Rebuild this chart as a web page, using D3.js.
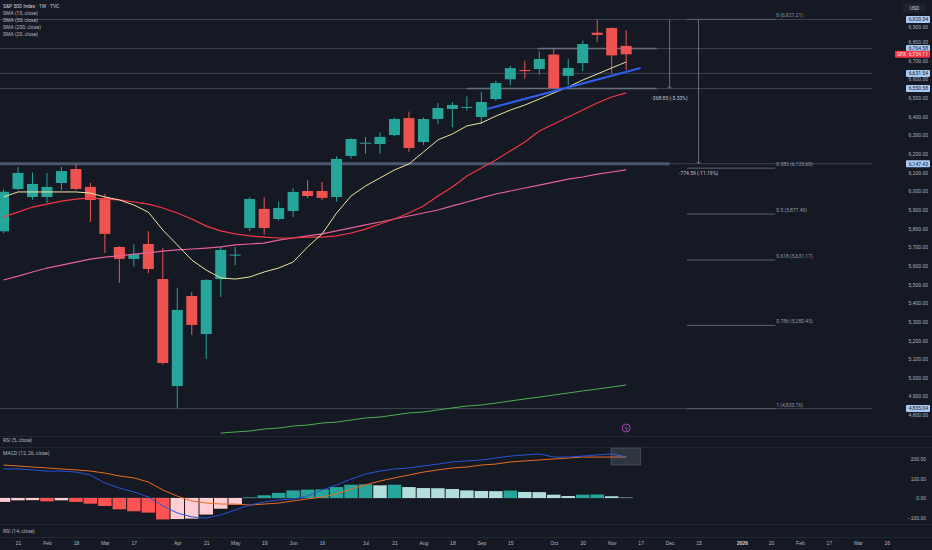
<!DOCTYPE html>
<html>
<head>
<meta charset="utf-8">
<script src="https://cdn.jsdelivr.net/npm/d3@7"></script>
<style>
body { margin: 0; background: #151924; }
svg { display: block; font-family: Roboto, "Noto Sans", sans-serif; }
</style>
</head>
<body>
<div class="mainVis"></div>
<script>
// weekly bars, first one is partly off the left edge
var weeks = ["2025-01-13", "2025-01-21", "2025-01-27", "2025-02-03", "2025-02-10", "2025-02-18", "2025-02-24",
  "2025-03-03", "2025-03-10", "2025-03-17", "2025-03-24", "2025-03-31", "2025-04-07", "2025-04-14", "2025-04-21",
  "2025-04-28", "2025-05-05", "2025-05-12", "2025-05-19", "2025-05-27", "2025-06-02", "2025-06-09", "2025-06-16",
  "2025-06-23", "2025-06-30", "2025-07-07", "2025-07-14", "2025-07-21", "2025-07-28", "2025-08-04", "2025-08-11",
  "2025-08-18", "2025-08-25", "2025-09-02", "2025-09-08", "2025-09-15", "2025-09-22", "2025-09-29", "2025-10-06",
  "2025-10-13", "2025-10-20", "2025-10-27", "2025-11-03", "2025-11-10"];

var opens = [5785, 6012, 5969, 5969, 6044, 6119, 6023, 5964, 5701, 5637, 5717, 5529, 4955, 5438, 5234, 5529, 5658,
  5803, 5905, 5851, 5894, 6001, 6001, 5969, 6189, 6258, 6253, 6301, 6392, 6264, 6387, 6441, 6450, 6398, 6494, 6600,
  6650, 6655, 6733, 6618, 6687, 6850, 6875, 6779];
var highs = [6010, 6130, 6100, 6098, 6130, 6147, 6045, 5986, 5705, 5715, 5786, 5695, 5481, 5459, 5529, 5700, 5700,
  5968, 5968, 5944, 6016, 6059, 6050, 6187, 6284, 6290, 6315, 6395, 6427, 6395, 6473, 6478, 6508, 6532, 6592, 6672,
  6700, 6750, 6764.58, 6710, 6807, 6920.34, 6878, 6864];
var lows = [5775, 6005, 5955, 5937, 6005, 6005, 5835, 5669, 5508, 5597, 5560, 5070, 4835.04, 5230, 5101, 5433, 5603,
  5786, 5767, 5843, 5861, 5963, 5952, 5944, 6174, 6201, 6201, 6294, 6212, 6248, 6358, 6343, 6433, 6360, 6485, 6568,
  6604, 6625, 6550.58, 6570, 6645, 6800, 6631.54, 6650];
var closes = [5997, 6098, 6039, 6023, 6108, 6012, 5953, 5771, 5637, 5663, 5583, 5079, 5363, 5283, 5524, 5685, 5660,
  5958, 5803, 5910, 5996, 5974, 5964, 6173, 6280, 6260, 6291, 6387, 6232, 6387, 6446, 6462, 6452, 6478, 6580, 6660,
  6644, 6709, 6553, 6661, 6789, 6838, 6728, 6734.11];

var sma10 = [5969, 5996, 5996, 5996, 5996, 5996, 5990, 5969, 5953, 5926, 5888, 5792, 5712, 5631, 5577, 5535, 5529,
  5540, 5567, 5588, 5620, 5701, 5771, 5883, 5974, 6028, 6071, 6114, 6146, 6210, 6275, 6307, 6350, 6366, 6403, 6435,
  6462, 6494, 6527, 6559, 6596, 6628, 6661, 6693];
var sma20 = [5862, 5888, 5915, 5931, 5947, 5958, 5964, 5958, 5953, 5942, 5931, 5910, 5883, 5851, 5813, 5787, 5771,
  5760, 5754, 5749, 5749, 5754, 5754, 5760, 5776, 5797, 5824, 5851, 5883, 5921, 5974, 6023, 6082, 6124, 6167, 6216,
  6264, 6323, 6360, 6398, 6435, 6473, 6505, 6527];
var sma50 = [5524, 5545, 5567, 5588, 5604, 5620, 5636, 5647, 5653, 5663, 5669, 5679, 5685, 5690, 5695, 5701, 5712,
  5717, 5722, 5738, 5749, 5760, 5771, 5787, 5803, 5819, 5835, 5851, 5867, 5883, 5899, 5921, 5942, 5964, 5985, 6001,
  6017, 6033, 6049, 6065, 6076, 6092, 6103, 6114];
var sma200 = [null, null, null, null, null, null, null, null, null, null, null, null, null, null, null,
  4703, 4709, 4714, 4725, 4730, 4741, 4746, 4757, 4762, 4773, 4784, 4789, 4800, 4811, 4816, 4827, 4838, 4848, 4854,
  4864, 4875, 4886, 4896, 4907, 4918, 4929, 4939, 4950, 4961];

var macdLine = [149, 149, 144, 138, 138, 133, 118, 77, 51, 31, 5, -41, -77, -97, -103, -87, -62, -36, -21, -10, -5,
  10, 41, 67, 97, 123, 138, 149, 154, 164, 174, 185, 190, 195, 205, 215, 221, 226, 210, 210, 215, 221, 226, 210];
var signalLine = [169, 164, 159, 154, 149, 144, 138, 128, 113, 103, 82, 41, 10, -15, -26, -31, -31, -36, -31, -26,
  -15, -5, 5, 21, 46, 67, 87, 103, 118, 133, 144, 154, 159, 169, 174, 185, 190, 195, 200, 205, 210, 210, 210, 210];
var histValues = [-20, -12, -11, -17, -12, -20, -29, -41, -58, -68, -75, -110, -108, -106, -85, -55, -34, 3, 14, 26,
  39, 43, 44, 56, 68, 70, 65, 68, 56, 51, 50, 46, 39, 36, 35, 38, 31, 30, 17, 10, 17, 18, 9, 2];

// time axis, positions are bar slots (slot 1 = week of Jan 21)
var tickSlots = [1, 3, 5, 7, 9, 12, 14, 16, 18, 20, 22, 25, 27, 29, 31, 33, 35, 38, 40, 42, 44, 46, 48, 51, 53, 55, 57, 59, 61];
var tickText = ["21", "Feb", "18", "Mar", "17", "Apr", "21", "May", "19", "Jun", "16", "Jul", "21", "Aug", "18", "Sep",
  "15", "Oct", "20", "Nov", "17", "Dec", "15", "2026", "20", "Feb", "17", "Mar", "16"];

var priceTicks = [4800, 4900, 5000, 5100, 5200, 5300, 5400, 5500, 5600, 5700, 5800, 5900, 6000, 6100, 6200, 6300,
  6400, 6500, 6600, 6700, 6800, 6900];
var macdTicks = [-100, 0, 100, 200];

// drawings
var hLinePrices = [6920.34, 6764.58, 6631.54, 6550.58, 6147.43, 4835.04];
var fibLevels = [0, 0.382, 0.5, 0.618, 0.786, 1];
var fibPrices = [6921.21, 6123.60, 5877.49, 5631.17, 5280.45, 4833.76];
var trendPoints = [[33.4, 6441], [44.0, 6661]];
var measures = [
  { slot: 46.0, from: 6920.34, to: 6550.58, text: "-368.85 (-5.33%)" },
  { slot: 48.0, from: 6920.34, to: 6147.43, text: "-774.59 (-11.19%)" }
];
var lastPrice = 6734.11;

var legendLines = ["S&P 500 Index · 1W · TVC", "SMA (10, close)", "SMA (50, close)", "SMA (200, close)", "SMA (20, close)"];

var width = 932, height = 550;
var plotRight = 872;
var upColor = "#26a69a", downColor = "#ef5350";
var axisText = "#b2b5be";
var fmt = d3.format(",.2f");

var x = d3.scaleLinear().domain([1, 61]).range([18, 886.8]);
var y = d3.scaleLinear().domain([4800, 6800]).range([415, 42]);
var yM = d3.scaleLinear().domain([-100, 200]).range([517.5, 459]);
var step = x(2) - x(1);

var canvas = d3.select(".mainVis")
    .append("svg")
    .attr("width", width)
    .attr("height", height);

canvas.append("rect")
    .attr("width", width)
    .attr("height", height)
    .attr("fill", "#151924");

var defs = canvas.append("defs");
defs.append("clipPath").attr("id", "clipMain")
    .append("rect").attr("x", 0).attr("y", 0).attr("width", plotRight).attr("height", 436);
defs.append("clipPath").attr("id", "clipMacd")
    .append("rect").attr("x", 0).attr("y", 447).attr("width", plotRight).attr("height", 77);

// pane separators
[436, 447, 524, 537].forEach(function(py) {
    canvas.append("line")
        .attr("x1", 0).attr("x2", width)
        .attr("y1", py + 0.5).attr("y2", py + 0.5)
        .attr("stroke", "#232734");
});

var main = canvas.append("g").attr("clip-path", "url(#clipMain)");

// horizontal line drawings
hLinePrices.forEach(function(p) {
    main.append("line")
        .attr("x1", 0).attr("x2", plotRight)
        .attr("y1", y(p)).attr("y2", y(p))
        .attr("stroke", "#3e4453")
        .attr("stroke-width", 1);
});
main.append("line")
    .attr("x1", 0).attr("x2", x(46))
    .attr("y1", y(6147.43)).attr("y2", y(6147.43))
    .attr("stroke", "#4b586e")
    .attr("stroke-width", 3);
[[6764.58, 36.9], [6550.58, 32.0]].forEach(function(s) {
    main.append("line")
        .attr("x1", x(s[1])).attr("x2", x(45.1))
        .attr("y1", y(s[0])).attr("y2", y(s[0]))
        .attr("stroke", "#6b7080")
        .attr("stroke-width", 1.5);
});

// fib retracement
fibLevels.forEach(function(lv, i) {
    main.append("line")
        .attr("x1", x(47.2)).attr("x2", x(53.3))
        .attr("y1", y(fibPrices[i])).attr("y2", y(fibPrices[i]))
        .attr("stroke", "#5d6270");
    main.append("text")
        .attr("x", x(53.3) + 1)
        .attr("y", y(fibPrices[i]) - 2)
        .attr("fill", "#9598a1")
        .style("font-size", "5px")
        .text(lv + " (" + fmt(fibPrices[i]) + ")");
});

// price range measures
measures.forEach(function(m) {
    main.append("line")
        .attr("x1", x(m.slot)).attr("x2", x(m.slot))
        .attr("y1", y(m.from)).attr("y2", y(m.to))
        .attr("stroke", "#6a6f7d");
    main.append("path")
        .attr("d", "M" + (x(m.slot) - 2) + "," + (y(m.to) - 2) + "L" + x(m.slot) + "," + y(m.to) + "L" + (x(m.slot) + 2) + "," + (y(m.to) - 2))
        .attr("fill", "none")
        .attr("stroke", "#6a6f7d");
    main.append("text")
        .attr("x", x(m.slot))
        .attr("y", y(m.to) + 11)
        .attr("text-anchor", "middle")
        .attr("fill", "#c3c6ce")
        .style("font-size", "5px")
        .text(m.text);
});

// candles
var candles = weeks.map(function(w, k) {
    return { date: w, k: k, o: opens[k], h: highs[k], l: lows[k], c: closes[k] };
});
var bodyW = 11;
var candle = main.selectAll(".candle")
    .data(candles)
    .enter()
    .append("g")
    .attr("class", "candle");
candle.append("line")
    .attr("x1", function(d) { return x(d.k); })
    .attr("x2", function(d) { return x(d.k); })
    .attr("y1", function(d) { return y(d.h); })
    .attr("y2", function(d) { return y(d.l); })
    .attr("stroke", function(d) { return d.c >= d.o ? upColor : downColor; })
    .attr("stroke-width", 1);
candle.append("rect")
    .attr("x", function(d) { return x(d.k) - bodyW / 2; })
    .attr("y", function(d) { return y(Math.max(d.o, d.c)); })
    .attr("width", bodyW)
    .attr("height", function(d) { return Math.max(1, Math.abs(y(d.o) - y(d.c))); })
    .attr("fill", function(d) { return d.c >= d.o ? upColor : downColor; });

// moving averages
var maLine = d3.line()
    .defined(function(d) { return d != null; })
    .x(function(d, i) { return x(i); })
    .y(function(d) { return y(d); });
[[sma200, "#4caf50", 1], [sma50, "#e8609a", 1.2], [sma20, "#f23645", 1.2], [sma10, "#f0e3a0", 1]].forEach(function(s) {
    main.append("path")
        .datum(s[0])
        .attr("d", maLine)
        .attr("fill", "none")
        .attr("stroke", s[1])
        .attr("stroke-width", s[2]);
});

// trend line
main.append("line")
    .attr("x1", x(trendPoints[0][0])).attr("y1", y(trendPoints[0][1]))
    .attr("x2", x(trendPoints[1][0])).attr("y2", y(trendPoints[1][1]))
    .attr("stroke", "#2f5ee8")
    .attr("stroke-width", 2);

// event marker
canvas.append("circle")
    .attr("cx", x(43)).attr("cy", 428)
    .attr("r", 4)
    .attr("fill", "#151924")
    .attr("stroke", "#a845b8");
canvas.append("text")
    .attr("x", x(43)).attr("y", 429.8)
    .attr("text-anchor", "middle")
    .attr("fill", "#c26ad0")
    .style("font-size", "5px")
    .text("ϟ");

// MACD pane
var macdG = canvas.append("g").attr("clip-path", "url(#clipMacd)");
macdG.append("line")
    .attr("x1", 0).attr("x2", x(43.5))
    .attr("y1", yM(0)).attr("y2", yM(0))
    .attr("stroke", "#363a45");
macdG.selectAll(".hist")
    .data(histValues)
    .enter()
    .append("rect")
    .attr("class", "hist")
    .attr("x", function(d, i) { return x(i) - step / 2 + 0.5; })
    .attr("width", step - 1)
    .attr("y", function(d) { return yM(Math.max(0, d)); })
    .attr("height", function(d) { return Math.abs(yM(d) - yM(0)); })
    .attr("fill", function(d, i) {
        var prev = i > 0 ? histValues[i - 1] : -Infinity;
        if (d >= 0) return prev < d ? "#26a69a" : "#b2dfdb";
        return prev < d ? "#ffcdd2" : "#ff5252";
    });
var macdPath = d3.line()
    .x(function(d, i) { return x(i); })
    .y(function(d) { return yM(d); });
macdG.append("path").datum(signalLine).attr("d", macdPath)
    .attr("fill", "none").attr("stroke", "#e86c1c").attr("stroke-width", 1);
macdG.append("path").datum(macdLine).attr("d", macdPath)
    .attr("fill", "none").attr("stroke", "#2b52d8").attr("stroke-width", 1);
macdG.append("rect")
    .attr("x", x(41.95)).attr("width", x(44.0) - x(41.95))
    .attr("y", yM(256)).attr("height", yM(169) - yM(256))
    .attr("fill", "rgba(140,150,170,0.22)")
    .attr("stroke", "rgba(160,170,190,0.25)");

// price axis
var priceAxis = canvas.append("g")
    .attr("transform", "translate(" + plotRight + ",0)")
    .call(d3.axisRight(y).tickValues(priceTicks).tickFormat(fmt).tickSize(0).tickPadding(0));
priceAxis.select(".domain").remove();
priceAxis.attr("text-anchor", "end");
priceAxis.selectAll("text")
    .attr("x", 56)
    .attr("y", function(d) { return d === 6900 ? 4 : 0; })
    .attr("fill", axisText)
    .style("font-size", "5px");

hLinePrices.forEach(function(p) {
    canvas.append("rect")
        .attr("x", 906).attr("y", y(p) - 3.5)
        .attr("width", 24).attr("height", 7)
        .attr("rx", 1)
        .attr("fill", "#a9c9f5");
    canvas.append("text")
        .attr("x", 928).attr("y", y(p) + 1.8)
        .attr("text-anchor", "end")
        .attr("fill", "#131722")
        .style("font-size", "5px")
        .text(fmt(p));
});
canvas.append("rect")
    .attr("x", 895).attr("y", y(lastPrice) - 3.5)
    .attr("width", 35).attr("height", 7)
    .attr("rx", 1)
    .attr("fill", "#f23645");
canvas.append("text")
    .attr("x", 897).attr("y", y(lastPrice) + 1.8)
    .attr("fill", "#fbe0e2")
    .style("font-size", "5px")
    .text("SPX");
canvas.append("text")
    .attr("x", 928).attr("y", y(lastPrice) + 1.8)
    .attr("text-anchor", "end")
    .attr("fill", "#fbe0e2")
    .style("font-size", "5px")
    .text(fmt(lastPrice));

// MACD axis
var macdAxis = canvas.append("g")
    .attr("transform", "translate(" + plotRight + ",0)")
    .call(d3.axisRight(yM).tickValues(macdTicks).tickFormat(fmt).tickSize(0).tickPadding(0));
macdAxis.select(".domain").remove();
macdAxis.attr("text-anchor", "end");
macdAxis.selectAll("text")
    .attr("x", 54)
    .attr("fill", axisText)
    .style("font-size", "5px");

// USD box
canvas.append("rect")
    .attr("x", 903).attr("y", 3).attr("width", 23).attr("height", 10).attr("rx", 2)
    .attr("fill", "#1e222d");
canvas.append("text")
    .attr("x", 914.5).attr("y", 10)
    .attr("text-anchor", "middle")
    .attr("fill", "#d1d4dc")
    .style("font-size", "5px")
    .text("USD");

// time axis
var timeAxis = canvas.append("g")
    .attr("transform", "translate(0,538)")
    .call(d3.axisBottom(x).tickValues(tickSlots).tickFormat(function(d, i) { return tickText[i]; }).tickSize(0).tickPadding(3));
timeAxis.select(".domain").remove();
timeAxis.selectAll("text")
    .attr("fill", function(d, i) { return tickText[i] === "2026" ? "#d1d4dc" : axisText; })
    .style("font-weight", function(d, i) { return tickText[i] === "2026" ? "bold" : "normal"; })
    .style("font-size", "5px");

// legend and pane titles
canvas.selectAll(".legend")
    .data(legendLines)
    .enter()
    .append("text")
    .attr("class", "legend")
    .attr("x", 3)
    .attr("y", function(d, i) { return 8 + i * 7; })
    .attr("fill", function(d, i) { return i === 0 ? "#d1d4dc" : axisText; })
    .style("font-size", "5px")
    .text(function(d) { return d; });

[["RSI (5, close)", 442], ["MACD (12, 26, close)", 455], ["RSI (14, close)", 533]].forEach(function(t) {
    canvas.append("text")
        .attr("x", 3).attr("y", t[1])
        .attr("fill", axisText)
        .style("font-size", "5px")
        .text(t[0]);
});
</script>
</body>
</html>
